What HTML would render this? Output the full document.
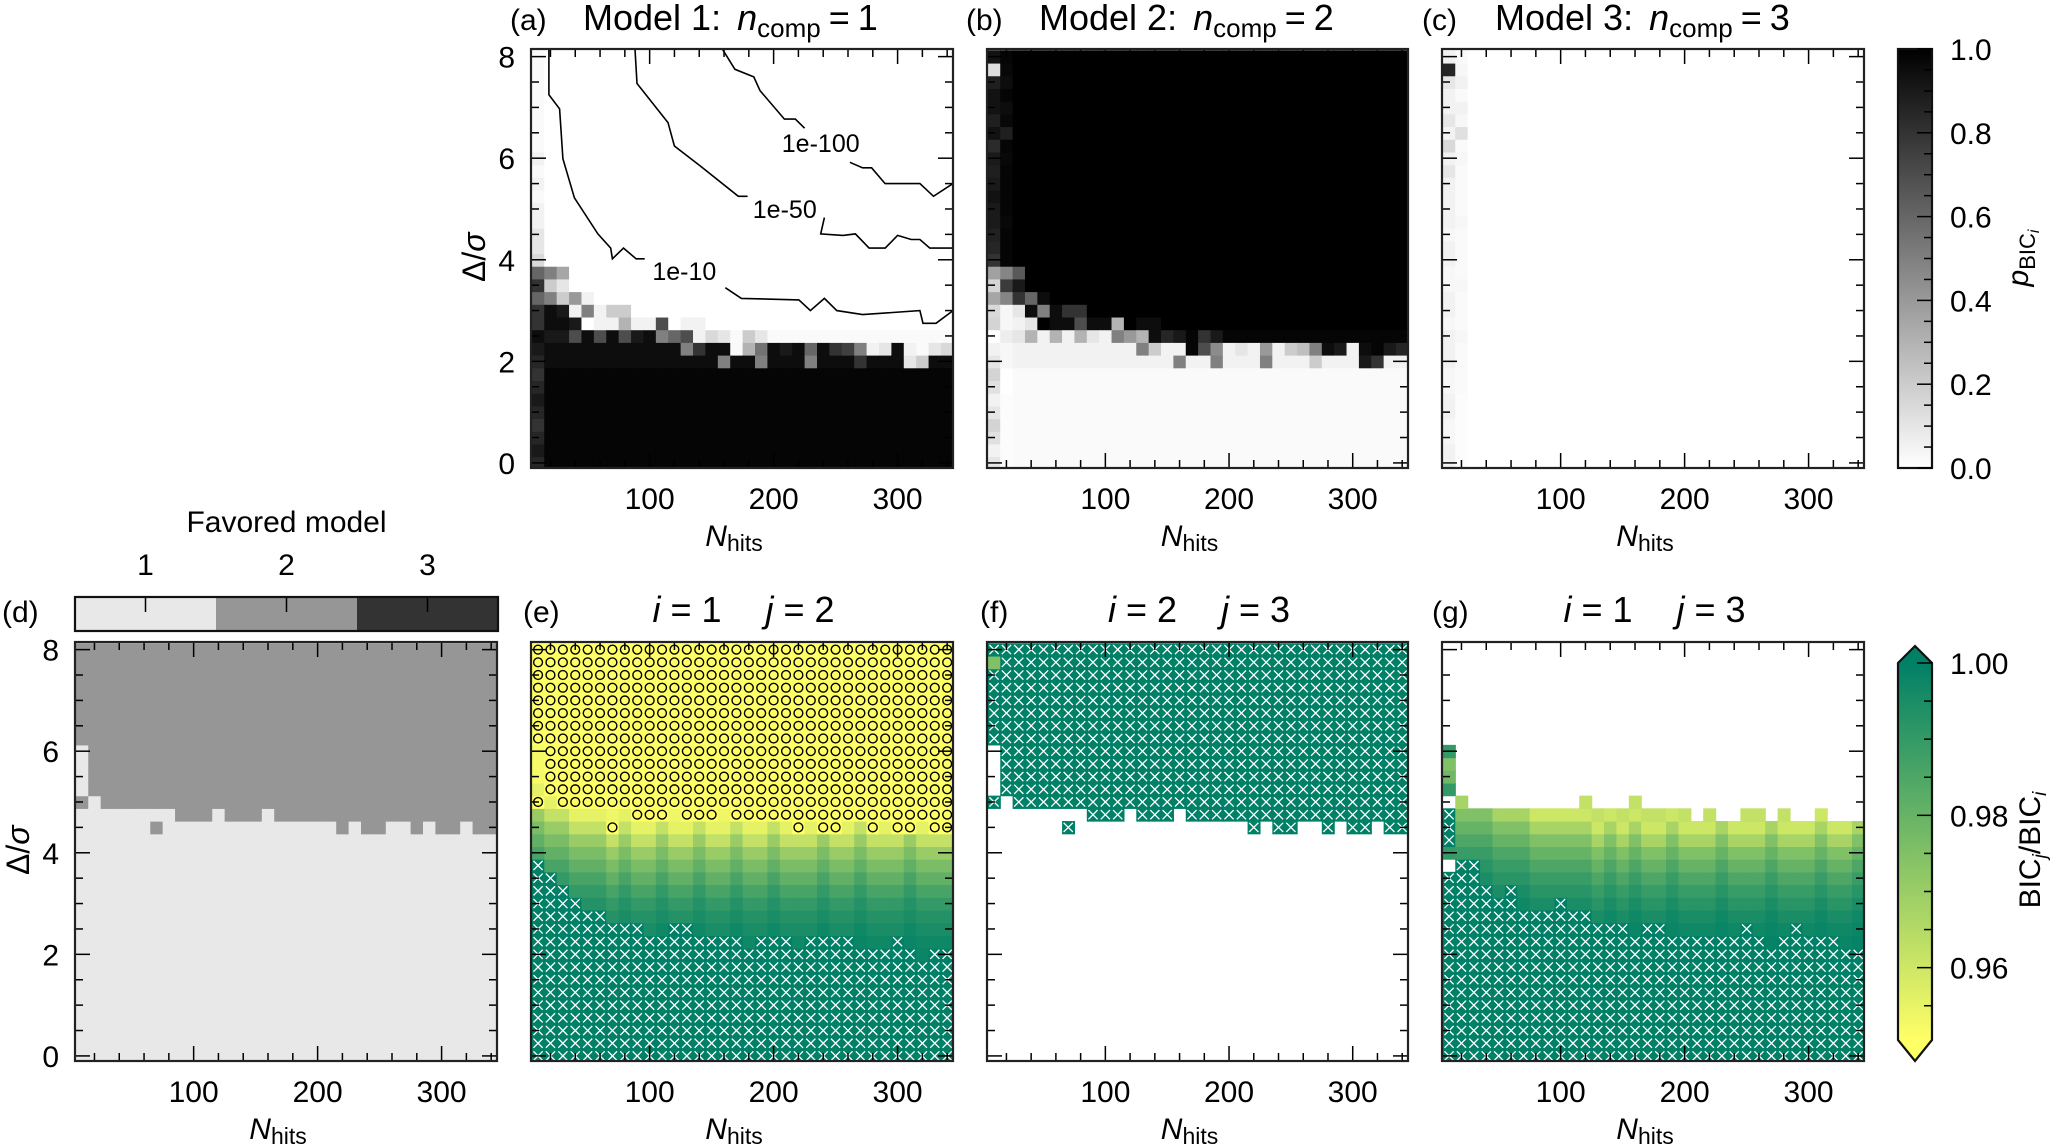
<!DOCTYPE html>
<html><head><meta charset="utf-8"><style>
html,body{margin:0;padding:0;background:#fff}
svg{display:block}
text{font-family:"Liberation Sans",sans-serif;fill:#000}
</style></head><body>
<svg id="fig" xmlns="http://www.w3.org/2000/svg" width="2067" height="1145" viewBox="0 0 2067 1145">
<defs>
<linearGradient id="grayGrad" x1="0" y1="1" x2="0" y2="0"><stop offset="0" stop-color="#fff"/><stop offset="1" stop-color="#000"/></linearGradient>
<linearGradient id="sumGrad" x1="0" y1="1" x2="0" y2="0"><stop offset="0" stop-color="#ffff66"/><stop offset="1" stop-color="#008066"/></linearGradient>
</defs>
</svg>
<script>
// ---------- data ----------
const nVals=[10,20,30,40,50,60,70,80,90,100,110,120,130,140,150,160,170,180,190,200,210,220,230,240,250,260,270,280,290,300,310,320,330,340];
const dVals=[0,0.25,0.5,0.75,1,1.25,1.5,1.75,2,2.25,2.5,2.75,3,3.25,3.5,3.75,4,4.25,4.5,4.75,5,5.25,5.5,5.75,6,6.25,6.5,6.75,7,7.25,7.5,7.75,8];
const xTicks=[100,200,300];
const yTicks=[0,2,4,6,8];
// panel (a): p_BIC1 transition band rows
const aRow200=[0.85,0.95,0.95,0.95,0.95,0.95,0.95,0.95,0.95,0.95,0.95,0.95,0.95,0.95,0.95,0.5,0.95,0.95,0.5,0.95,0.95,0.95,0.5,0.95,0.95,0.95,0.8,0.95,0.95,0.95,0.1,0.2,0.95,0.95];
const aRow225=[0.9,0.95,0.95,0.95,0.95,0.95,0.95,0.95,0.95,0.95,0.95,0.95,0.5,0.8,0.95,0.95,0.02,0.3,0.55,0.95,0.9,0.95,0.6,0.95,0.8,0.75,0.5,0.05,0.1,0.95,0.05,0.02,0.1,0.15];
const aRow250=[0.95,0.9,0.9,0.7,0.95,0.7,0.95,0.7,0.9,0.95,0.5,0.6,0.7,0.05,0.15,0.1,0.02,0.2,0.1,0.02,0.02,0.02,0.02,0.02,0.02,0.02,0.02,0.02,0.02,0.02,0.02,0.02,0.02,0.02];
const aRow275=[0.8,0.95,0.95,0.9,0,0.05,0.05,0.3,0.05,0.05,0.7,0,0.05,0.05,0,0,0,0,0,0,0,0,0,0,0,0,0,0,0,0,0,0,0,0];
const aRow300=[0.8,0.95,0.9,0.05,0.5,0.05,0.2,0.2,0,0,0,0,0,0,0,0,0,0,0,0,0,0,0,0,0,0,0,0,0,0,0,0,0,0];
const aRow325=[0.6,0.5,0.2,0.4,0.05,0,0,0,0,0,0,0,0,0,0,0,0,0,0,0,0,0,0,0,0,0,0,0,0,0,0,0,0,0];
const aRow350=[0.8,0.2,0.1,0,0,0,0,0,0,0,0,0,0,0,0,0,0,0,0,0,0,0,0,0,0,0,0,0,0,0,0,0,0,0];
const aRow375=[0.6,0.5,0.35,0,0,0,0,0,0,0,0,0,0,0,0,0,0,0,0,0,0,0,0,0,0,0,0,0,0,0,0,0,0,0];
const aCol0=[0.85,0.9,0.85,0.8,0.85,0.9,0.85,0.8,0.85,0.9,0.95,0.8,0.8,0.6,0.8,0.6,0.15,0.1,0.1,0.05,0.05,0.02,0.05,0.02,0.05,0.02,0.02,0.02,0.02,0.02,0.02,0.02,0.02];
// panel (c): p_BIC3 first columns
const cCol0=[0.05,0.05,0.03,0.03,0.05,0.05,0.03,0.03,0.05,0.05,0.05,0.03,0.05,0.05,0.03,0.03,0.05,0.05,0.03,0.05,0.05,0.05,0.05,0.1,0.05,0.15,0.05,0.1,0.05,0.05,0.1,0.85,0.05];
const cCol1=[0.01,0.01,0.01,0.01,0.01,0.01,0.02,0.02,0.02,0.02,0.03,0.02,0.02,0.02,0.03,0.02,0.02,0.02,0.02,0.03,0.02,0.02,0.02,0.02,0.03,0.02,0.12,0.03,0.05,0.02,0.05,0.03,0.02];
// contours in panel (a): [N, delta]
const c10A=[[18.7,8.15],[18.7,7.25],[27.4,6.97],[30,5.99],[39.3,5.22],[58.3,4.51],[68.6,4.23],[70,4.02],[78.9,4.23],[89.1,4.02],[96,4.02]];
const c10B=[[161,3.45],[174,3.24],[220.4,3.21],[229.7,3.0],[241,3.24],[251,3.0],[271.8,2.92],[318,3.0],[320.5,2.75],[331,2.75],[344.7,3.0]];
const c50A=[[88.2,8.15],[89.8,7.47],[114.8,6.7],[120,6.24],[140.6,5.85],[171.5,5.25],[179,5.25]];
const c50B=[[241,4.83],[238,4.51],[256,4.48],[266,4.51],[277,4.23],[290,4.23],[300,4.48],[311,4.4],[318,4.4],[326,4.23],[344.7,4.23]];
const c100A=[[158.6,8.15],[168.8,7.75],[184,7.6],[189,7.33],[208.7,6.77],[217.5,6.77],[225,6.59]];
const c100B=[[261.5,5.92],[271.8,5.81],[279,5.81],[289.9,5.5],[318,5.5],[329,5.25],[344.7,5.5]];
const contourLabels=["1e-10","1e-50","1e-100"];
const contourLabelPos=[[128,3.78],[209,5.0],[238,6.3]];
// model-2-favoured region: lowest row of region per column
const m2Bottom=[6.25,5.25,5.0,5.0,5.0,5.0,5.0,5.0,4.75,4.75,4.75,5.0,4.75,4.75,4.75,5.0,4.75,4.75,4.75,4.75,4.75,4.5,4.75,4.5,4.5,4.75,4.75,4.5,4.75,4.5,4.5,4.75,4.5,4.5];
const m2Extra=[[10,5.0],[70,4.5]];
// panel (e)
const eX=[3.75,3.5,3.25,3.0,2.75,2.75,2.5,2.5,2.5,2.25,2.25,2.5,2.5,2.25,2.25,2.25,2.25,2.0,2.25,2.25,2.25,2.0,2.25,2.25,2.25,2.25,2.0,2.0,2.0,2.25,2.0,1.75,2.0,2.0];
const eProfRows=[5.25,5.0,4.75,4.5,4.25,4.0,3.75,3.5,3.25,3.0,2.75,2.5,2.25,2.0,1.75];
const eProfVals=[0.952,0.952,0.953,0.955,0.962,0.970,0.976,0.981,0.986,0.990,0.993,0.995,0.997,0.998,0.999];
const eShift=[3,2,2,1,1,1,0,1,0,0,1,0,0,1,0,0,1,0,0,1,0,0,0,1,0,0,1,0,0,0,1,0,0,0];
// panel (g)
const gTop=[4.75,5.0,4.75,4.75,4.75,4.75,4.75,4.75,4.75,4.75,4.75,5.0,4.75,4.75,4.75,5.0,4.75,4.75,4.75,4.75,4.5,4.75,4.5,4.5,4.75,4.75,4.5,4.75,4.5,4.5,4.75,4.5,4.5,4.5];
const gX=[3.75,3.75,3.75,3.25,3.0,3.25,2.75,2.75,2.75,3.0,2.75,2.75,2.5,2.5,2.5,2.25,2.5,2.5,2.25,2.25,2.25,2.25,2.25,2.25,2.5,2.25,2.0,2.25,2.5,2.25,2.25,2.25,2.0,2.0];
const gProfRows=[5.0,4.75,4.5,4.25,4.0,3.75,3.5,3.25,3.0,2.75,2.5,2.25,2.0];
const gProfVals=[0.965,0.962,0.960,0.967,0.975,0.980,0.985,0.989,0.992,0.995,0.997,0.998,0.999];
const gShift=[0,3,3,3,2,2,2,1,1,1,1,1,0,1,0,1,0,0,1,0,0,0,1,0,0,0,1,0,0,0,1,0,0,1];
const gCol0Rows=[6.0,5.75,5.5,5.25,4.75,4.5,4.25,4.0];
const gCol0Vals=[0.99,0.975,0.978,0.99,1.01,1.01,1.01,0.99];
const cbGrayTicks=[0,0.2,0.4,0.6,0.8,1.0];
const cbBicTicks=[0.96,0.98,1.00];
const favoredLabels=["1","2","3"];
const favoredColors=["#e8e8e8","#969696","#333333"];

// ---------- drawing ----------
const svg=document.getElementById('fig');
const NS='http://www.w3.org/2000/svg';
function mk(tag,attrs,parent){const e=document.createElementNS(NS,tag);for(const k in attrs)e.setAttribute(k,attrs[k]);(parent||svg).appendChild(e);return e;}
const XMIN=4.3,XMAX=344.7,YMIN=-0.1,YMAX=8.15;
const P={
 a:{x0:531,x1:953,y0:49,y1:468},b:{x0:987,x1:1408,y0:49,y1:468},c:{x0:1442,x1:1864,y0:49,y1:468},
 d:{x0:75,x1:497,y0:642,y1:1061},e:{x0:531,x1:953,y0:642,y1:1061},f:{x0:987,x1:1408,y0:642,y1:1061},g:{x0:1442,x1:1864,y0:642,y1:1061}};
function xs(p,n){return p.x0+(n-XMIN)/(XMAX-XMIN)*(p.x1-p.x0);}
function ys(p,d){return p.y1-(d-YMIN)/(YMAX-YMIN)*(p.y1-p.y0);}
function gray(v){const g=Math.round(255*(1-Math.max(0,Math.min(1,v))));return `rgb(${g},${g},${g})`;}
function summer(v){const t=Math.max(0,Math.min(1,(1-v)/0.05));return `rgb(${Math.round(255*t)},${Math.round(128+127*t)},102)`;}
let clipId=0;
function panelGroup(p,name){
 const id='clip'+(clipId++);
 const cp=mk('clipPath',{id:id});mk('rect',{x:p.x0,y:p.y0,width:p.x1-p.x0,height:p.y1-p.y0},cp);
 const g=mk('g',{'clip-path':`url(#${id})`});
 
 
 return g;
}
function cell(g,p,i,j,fill,name){
 const n=nVals[i],d=dVals[j];
 const x0=xs(p,n-5),x1=xs(p,n+5),y0=ys(p,d+0.125),y1=ys(p,d-0.125);
 const r=mk('rect',{x:x0.toFixed(2),y:y0.toFixed(2),width:(x1-x0+0.6).toFixed(2),height:(y1-y0+0.6).toFixed(2),fill:fill},g);
 
 
 return [ (x0+x1)/2,(y0+y1)/2 ];
}
function xMark(g,c){
 const s=4.6;
 const m=mk('path',{d:`M${c[0]-s},${c[1]-s}L${c[0]+s},${c[1]+s}M${c[0]-s},${c[1]+s}L${c[0]+s},${c[1]-s}`,stroke:'#fff','stroke-width':1.3,fill:'none'},g);
 
 
}
function oMark(g,c){
 const m=mk('circle',{cx:c[0],cy:c[1],r:4.4,stroke:'#000','stroke-width':1.4,fill:'none'},g);
 
 
}
function axes(p,key,showY){
 const g=mk('g',{});
 
 
 for(let n=20;n<=340;n+=20){
  const x=xs(p,n),L=(n%100===0)?15:8;
  mk('line',{x1:x,y1:p.y1,x2:x,y2:p.y1-L,stroke:'#000','stroke-width':1.5},g);
  mk('line',{x1:x,y1:p.y0,x2:x,y2:p.y0+L,stroke:'#000','stroke-width':1.5},g);
 }
 for(let d=0;d<=8.001;d+=0.5){
  const y=ys(p,d),L=(Math.abs(d%2)<1e-6)?15:8;
  mk('line',{x1:p.x0,y1:y,x2:p.x0+L,y2:y,stroke:'#000','stroke-width':1.5},g);
  mk('line',{x1:p.x1,y1:y,x2:p.x1-L,y2:y,stroke:'#000','stroke-width':1.5},g);
 }
 mk('rect',{x:p.x0,y:p.y0,width:p.x1-p.x0,height:p.y1-p.y0,fill:'none',stroke:'#222','stroke-width':2.2},g);
 xTicks.forEach(t=>{
  const tx=mk('text',{x:xs(p,t),y:p.y1+41,'font-size':30,'text-anchor':'middle'});
  tx.textContent=t;
  
  
 });
 const xl=mk('text',{x:(p.x0+p.x1)/2-8,y:p.y1+78,'font-size':30,'text-anchor':'middle'});
 
 
 xl.innerHTML='<tspan font-style="italic">N</tspan><tspan font-size="23" dy="5">hits</tspan>';
 if(showY){
  yTicks.forEach(t=>{
   const ty=mk('text',{x:p.x0-16,y:ys(p,t)+11,'font-size':30,'text-anchor':'end'});
   ty.textContent=t;
   
   
  });
  const yl=mk('text',{x:0,y:0,'font-size':32,'text-anchor':'middle',transform:`translate(${p.x0-46},${ys(p,4.05)}) rotate(-90)`});
  
  
  yl.innerHTML='Δ/<tspan font-style="italic">σ</tspan>';
 }
}
function inM2(i,j){
 const d=dVals[j];
 if(d>=m2Bottom[i]-1e-9)return true;
 return m2Extra.some(e=>e[0]===nVals[i]&&Math.abs(e[1]-d)<1e-9);
}
function aVal(i,j){
 const d=dVals[j];
 if(i===0)return aCol0[j];
 const rows={2:aRow200,2.25:aRow225,2.5:aRow250,2.75:aRow275,3:aRow300,3.25:aRow325,3.5:aRow350,3.75:aRow375};
 if(d<2)return 0.98;
 if(rows[d])return rows[d][i];
 return 0;
}
function cVal(i,j){if(i===0)return cCol0[j];if(i===1)return cCol1[j];return 0;}

// panels a,b,c
const ga=panelGroup(P.a,'heatmap-model1');
const gb=panelGroup(P.b,'heatmap-model2');
const gc=panelGroup(P.c,'heatmap-model3');
for(let i=0;i<nVals.length;i++)for(let j=0;j<dVals.length;j++){
 const a=aVal(i,j),c=cVal(i,j),b=Math.max(0,1-a-c);
 cell(ga,P.a,i,j,gray(a),'cell');
 cell(gb,P.b,i,j,gray(b),'cell');
 cell(gc,P.c,i,j,gray(c),'cell');
}
// contours
[[c10A,c10B],[c50A,c50B],[c100A,c100B]].forEach((segs,k)=>{
 segs.forEach(s=>{
  const pl=mk('polyline',{points:s.map(q=>xs(P.a,q[0]).toFixed(1)+','+ys(P.a,q[1]).toFixed(1)).join(' '),fill:'none',stroke:'#000','stroke-width':1.6},ga);
  
  
 });
 const lp=contourLabelPos[k];
 const t=mk('text',{x:xs(P.a,lp[0]),y:ys(P.a,lp[1])+9,'font-size':25,'text-anchor':'middle'});
 t.textContent=contourLabels[k];
 
 
});
// panel d
const gd=panelGroup(P.d,'heatmap-favored-model');
for(let i=0;i<nVals.length;i++)for(let j=0;j<dVals.length;j++){
 cell(gd,P.d,i,j,inM2(i,j)?favoredColors[1]:favoredColors[0],'cell');
}
// panel e
const ge=panelGroup(P.e,'heatmap-bic-ratio-1-2');
for(let i=0;i<nVals.length;i++)for(let j=0;j<dVals.length;j++){
 const d=dVals[j];
 if(inM2(i,j)){const c=cell(ge,P.e,i,j,summer(0.94),'cell');oMark(ge,c);}
 else if(d<=eX[i]+1e-9){const c=cell(ge,P.e,i,j,summer(1),'cell');xMark(ge,c);}
 else{let k=eProfRows.indexOf(d);let v=0.952;if(k>=0){k=Math.min(eProfVals.length-1,k+eShift[i]);v=eProfVals[k];}cell(ge,P.e,i,j,summer(v),'cell');}
}
// panel f
const gf=panelGroup(P.f,'heatmap-bic-ratio-2-3');
for(let i=0;i<nVals.length;i++)for(let j=0;j<dVals.length;j++){
 if(!inM2(i,j))continue;
 if(i===0&&dVals[j]===7.75){cell(gf,P.f,i,j,summer(0.975),'cell');continue;}
 const c=cell(gf,P.f,i,j,summer(1),'cell');xMark(gf,c);
}
// panel g
const gg=panelGroup(P.g,'heatmap-bic-ratio-1-3');
for(let i=0;i<nVals.length;i++)for(let j=0;j<dVals.length;j++){
 const d=dVals[j];
 if(i===0){
  const k=gCol0Rows.indexOf(d);
  if(k>=0){const v=gCol0Vals[k];const c=cell(gg,P.g,i,j,summer(v),'cell');if(v>1)xMark(gg,c);continue;}
  if(d<gX[0]){const c=cell(gg,P.g,i,j,summer(1),'cell');xMark(gg,c);}
  continue;
 }
 if(d>gTop[i]+1e-9)continue;
 if(d<=gX[i]+1e-9){const c=cell(gg,P.g,i,j,summer(1),'cell');xMark(gg,c);continue;}
 let k=gProfRows.indexOf(d);k=Math.min(gProfVals.length-1,Math.max(0,k)+gShift[i]);
 cell(gg,P.g,i,j,summer(gProfVals[k]),'cell');
}
axes(P.a,'a',true);axes(P.b,'b',false);axes(P.c,'c',false);
axes(P.d,'d',true);axes(P.e,'e',false);axes(P.f,'f',false);axes(P.g,'g',false);

// titles
function title(x,y,html,name,anchor,fs){const t=mk('text',{x:x,y:y,'font-size':fs||36,'text-anchor':anchor||'start'});t.innerHTML=html;return t;}
[['a',510,583,1],['b',966,1039,2],['c',1422,1495,3]].forEach(r=>{
 title(r[1],30,'('+r[0]+')','panel-label-'+r[0],'start',30);
 title(r[2],30,`Model ${r[3]}: <tspan font-style="italic" dx="6">n</tspan><tspan font-size="26" dy="7">comp</tspan><tspan dy="-7" dx="8">=</tspan><tspan dx="8">${r[3]}</tspan>`,'panel-title-'+r[0]);
});
[['d',2,null],['e',523,'1','2'],['f',980,'2','3'],['g',1432,'1','3']].forEach(r=>{
 title(r[1],622,'('+r[0]+')','panel-label-'+r[0],'start',30);
 if(r[2]){const p=P[r[0]];const cx=(p.x0+p.x1)/2;
  title(cx-55,622,`<tspan font-style="italic">i</tspan> = ${r[2]}`,'panel-title-i-'+r[0],'middle');
  title(cx+58,622,`<tspan font-style="italic">j</tspan> = ${r[3]}`,'panel-title-j-'+r[0],'middle');}
});

// favored model legend
const fl=mk('g',{});


const lx0=75,lx1=498,ly0=597,ly1=631,sw=(lx1-lx0)/3;
favoredColors.forEach((c,k)=>{
 const r=mk('rect',{x:lx0+k*sw,y:ly0,width:sw+0.5,height:ly1-ly0,fill:c},fl);
 
 
 mk('line',{x1:lx0+(k+0.5)*sw,y1:ly0,x2:lx0+(k+0.5)*sw,y2:ly0+15,stroke:'#000','stroke-width':1.5},fl);
 const t=mk('text',{x:lx0+(k+0.5)*sw,y:575,'font-size':30,'text-anchor':'middle'},fl);
 t.textContent=favoredLabels[k];
 
 
});
mk('rect',{x:lx0,y:ly0,width:lx1-lx0,height:ly1-ly0,fill:'none',stroke:'#111','stroke-width':2.2},fl);
const ft=mk('text',{x:(lx0+lx1)/2,y:532,'font-size':30,'text-anchor':'middle'},fl);
ft.textContent='Favored model';



// gray colorbar
const cb1=mk('g',{});


const cbx0=1898,cbx1=1932,cby0=49,cby1=468;
mk('rect',{x:cbx0,y:cby0,width:cbx1-cbx0,height:cby1-cby0,fill:'url(#grayGrad)',stroke:'#111','stroke-width':2.2},cb1);
for(let v=0;v<=1.0001;v+=0.05){
 const y=cby1-v*(cby1-cby0),maj=Math.abs(v*5-Math.round(v*5))<1e-6;
 mk('line',{x1:cbx1,y1:y,x2:cbx1-(maj?15:8),y2:y,stroke:'#000','stroke-width':1.5},cb1);
}
cbGrayTicks.forEach(v=>{
 const t=mk('text',{x:1950,y:cby1-v*(cby1-cby0)+11,'font-size':30},cb1);
 t.textContent=v.toFixed(1);
 
 
});
const pl=mk('text',{x:0,y:0,'font-size':30,'text-anchor':'middle',transform:'translate(2028,258) rotate(-90)'},cb1);
pl.innerHTML='<tspan font-style="italic">p</tspan><tspan font-size="22" dy="7">BIC</tspan><tspan font-size="16" font-style="italic" dy="4">i</tspan>';



// BIC ratio colorbar
const cb2=mk('g',{});


const by0=663,by1=1040,vmin=0.9505,vmax=1.0;
function by(v){return by1-(v-vmin)/(vmax-vmin)*(by1-by0);}
mk('rect',{x:cbx0,y:by0,width:cbx1-cbx0,height:by1-by0,fill:'url(#sumGrad)'},cb2);
mk('path',{d:`M${cbx0},${by0}L${(cbx0+cbx1)/2},646L${cbx1},${by0}Z`,fill:'#008066'},cb2);
mk('path',{d:`M${cbx0},${by1}L${(cbx0+cbx1)/2},1061L${cbx1},${by1}Z`,fill:'#ffff66'},cb2);
mk('path',{d:`M${cbx0},${by0}L${(cbx0+cbx1)/2},646L${cbx1},${by0}L${cbx1},${by1}L${(cbx0+cbx1)/2},1061L${cbx0},${by1}Z`,fill:'none',stroke:'#111','stroke-width':2.2},cb2);
for(let k=0;k<=9;k++){
 const v=1.0-k*0.005,maj=(k%4===0);
 mk('line',{x1:cbx1,y1:by(v),x2:cbx1-(maj?15:8),y2:by(v),stroke:'#000','stroke-width':1.5},cb2);
}
cbBicTicks.forEach(v=>{
 const t=mk('text',{x:1950,y:by(v)+11,'font-size':30},cb2);
 t.textContent=v.toFixed(2);
 
 
});
const bl=mk('text',{x:0,y:0,'font-size':30,'text-anchor':'middle',transform:'translate(2040,850) rotate(-90)'},cb2);
bl.innerHTML='BIC<tspan font-size="19" font-style="italic" dy="6">j</tspan><tspan dy="-6">/BIC</tspan><tspan font-size="19" font-style="italic" dy="6">i</tspan>';


</script>
</body></html>
